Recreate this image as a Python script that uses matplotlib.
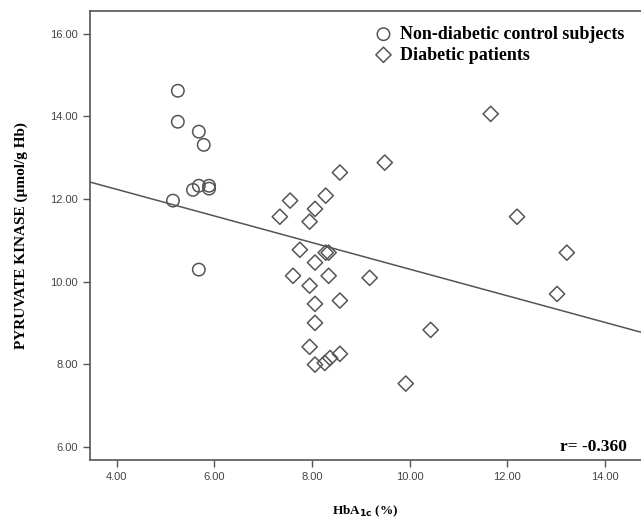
"""Pyruvate kinase vs HbA1c scatter with regression line."""

import numpy as np
import matplotlib
matplotlib.use('Agg')
import matplotlib.pyplot as plt

# Non-diabetic control subjects
ctrl_hba1c = [5.25, 5.25, 5.68, 5.78, 5.56, 5.68, 5.89, 5.89, 5.15, 5.68]
ctrl_pk = [14.62, 13.87, 13.63, 13.31, 12.22, 12.32, 12.32, 12.25, 11.96, 10.29]

# Diabetic patients
diab_hba1c = [9.49, 8.57, 7.55, 8.28, 8.06, 7.34, 7.95, 7.75, 8.28, 8.34,
              8.06, 7.61, 8.34, 9.18, 7.95, 8.06, 8.57, 8.06, 7.95, 8.06,
              8.26, 8.37, 8.57, 10.43, 9.92, 11.66, 12.20, 13.22, 13.02]
diab_pk = [12.88, 12.64, 11.96, 12.08, 11.76, 11.57, 11.45, 10.77, 10.70, 10.70,
           10.46, 10.14, 10.14, 10.09, 9.90, 9.46, 9.54, 9.00, 8.42, 7.99,
           8.03, 8.15, 8.25, 8.83, 7.53, 14.06, 11.57, 10.70, 9.70]

# Regression line
fit_slope = -0.322
fit_intercept = 13.52

x_ticks = [4, 6, 8, 10, 12, 14]
y_ticks = [6, 8, 10, 12, 14, 16]

fig = plt.figure(figsize=(6.41, 5.26), dpi=100)
ax = fig.add_axes([0.1404, 0.1255, 0.8596, 0.8535])

edge = '#555555'
ax.scatter(ctrl_hba1c, ctrl_pk, s=80, marker='o', facecolors='none',
           edgecolors=edge, linewidths=1.1, label='Non-diabetic control subjects',
           zorder=3)
ax.scatter(diab_hba1c, diab_pk, s=60, marker='D', facecolors='none',
           edgecolors=edge, linewidths=1.1, label='Diabetic patients',
           zorder=3)

xmin, xmax = 3.45, 14.74
xs = np.array([xmin, xmax])
ax.plot(xs, fit_intercept + fit_slope * xs, color='#555555', linewidth=1.1,
        zorder=2)

ax.set_xlim(xmin, xmax)
ax.set_ylim(5.68, 16.55)
ax.set_xticks(x_ticks)
ax.set_yticks(y_ticks)
ax.set_xticklabels([f'{v:.2f}' for v in x_ticks])
ax.set_yticklabels([f'{v:.2f}' for v in y_ticks])
ax.tick_params(direction='out', length=5, width=1, colors='#555555',
               labelcolor='#444444', labelsize=8)
for lab in ax.get_xticklabels() + ax.get_yticklabels():
    lab.set_family('Liberation Sans')

for side in ['left', 'bottom', 'top']:
    ax.spines[side].set_color('#555555')
    ax.spines[side].set_linewidth(1.2)
ax.spines['right'].set_visible(False)

serif = 'Liberation Serif'
ax.set_xlabel(r'HbA$_{\mathbf{1c}}$ (%)', family=serif, fontweight='bold',
              fontsize=9.5, labelpad=16)
ax.set_ylabel('PYRUVATE KINASE (µmol/g Hb)', family=serif, fontweight='bold',
              fontsize=11, labelpad=16)

ax.text(0.975, 0.01, 'r= -0.360', transform=ax.transAxes, family=serif,
        fontweight='bold', fontsize=12.5, ha='right', va='bottom')

leg = ax.legend(loc='upper left', bbox_to_anchor=(0.49, 0.995), frameon=False,
                handletextpad=0.3, borderaxespad=0.3, labelspacing=0.2,
                handlelength=1.2, prop={'family': serif, 'weight': 'bold',
                                        'size': 13})

plt.savefig('out.png', dpi=100)
